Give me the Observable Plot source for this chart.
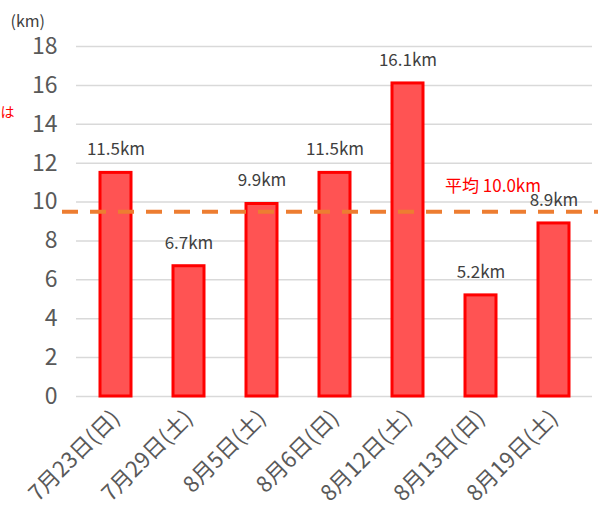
<!DOCTYPE html>
<html>
<head>
<meta charset="utf-8">
<script src="https://cdn.jsdelivr.net/npm/d3@7"></script>
<script src="https://cdn.jsdelivr.net/npm/@observablehq/plot@0.6"></script>
<style>
  html, body { margin: 0; padding: 0; background: #fff; }
  #chart { width: 612px; height: 527px; }
</style>
</head>
<body>
<div id="chart"></div>
<script>
const dates = ["7月23日(日)", "7月29日(土)", "8月5日(土)", "8月6日(日)", "8月12日(土)", "8月13日(日)", "8月19日(土)"];
const distances = [11.5, 6.7, 9.9, 11.5, 16.1, 5.2, 8.9];
const yTicks = [0, 2, 4, 6, 8, 10, 12, 14, 16, 18];
const avgLineValue = 9.5;
const avgLabel = "平均 10.0km";
const avgLabelValue = 10.0;

const data = dates.map((d, i) => ({date: d, km: distances[i], label: distances[i].toFixed(1) + "km"}));
const font = "'Noto Sans CJK JP', 'Noto Sans', sans-serif";

const chart = Plot.plot({
  width: 612,
  height: 527,
  marginLeft: 76,
  marginRight: 20,
  marginTop: 46,
  marginBottom: 131,
  style: {fontFamily: font, background: "#fff"},
  x: {domain: dates, paddingInner: 0.58, paddingOuter: 0.29, label: null},
  y: {domain: [0, 18], label: null},
  marks: [
    Plot.ruleY(yTicks, {stroke: "#d9d9d9", strokeWidth: 1.5}),
    Plot.axisY({ticks: yTicks, tickSize: 0, tickPadding: 19, fontSize: 23, fill: "#595959", label: null}),
    Plot.axisX({tickSize: 0, tickRotate: -45, tickPadding: 18, fontSize: 22, fill: "#595959", label: null}),
    Plot.barY(data, {x: "date", y: "km", fill: "#FF5353", stroke: "#FF0000", strokeWidth: 3}),
    Plot.text(data, {x: "date", y: "km", text: "label", dy: -23, fontSize: 17, fill: "#404040"}),
    Plot.ruleY([avgLineValue], {stroke: "#ED7D31", strokeWidth: 4, strokeDasharray: "16,12", insetLeft: -14, insetRight: -6}),
    Plot.text([avgLabel], {x: [dates[5]], y: [avgLabelValue], dx: 12, dy: -16, fontSize: 17, fill: "#FF0000"}),
    Plot.text(["(km)"], {frameAnchor: "top-left", dx: -66, dy: -31, textAnchor: "start", fontSize: 16, fill: "#404040"}),
    Plot.text(["は"], {frameAnchor: "left", y: [14.6], dx: -76, textAnchor: "start", fontSize: 14, fill: "#FF0000"})
  ]
});
document.getElementById("chart").appendChild(chart);
</script>
</body>
</html>
